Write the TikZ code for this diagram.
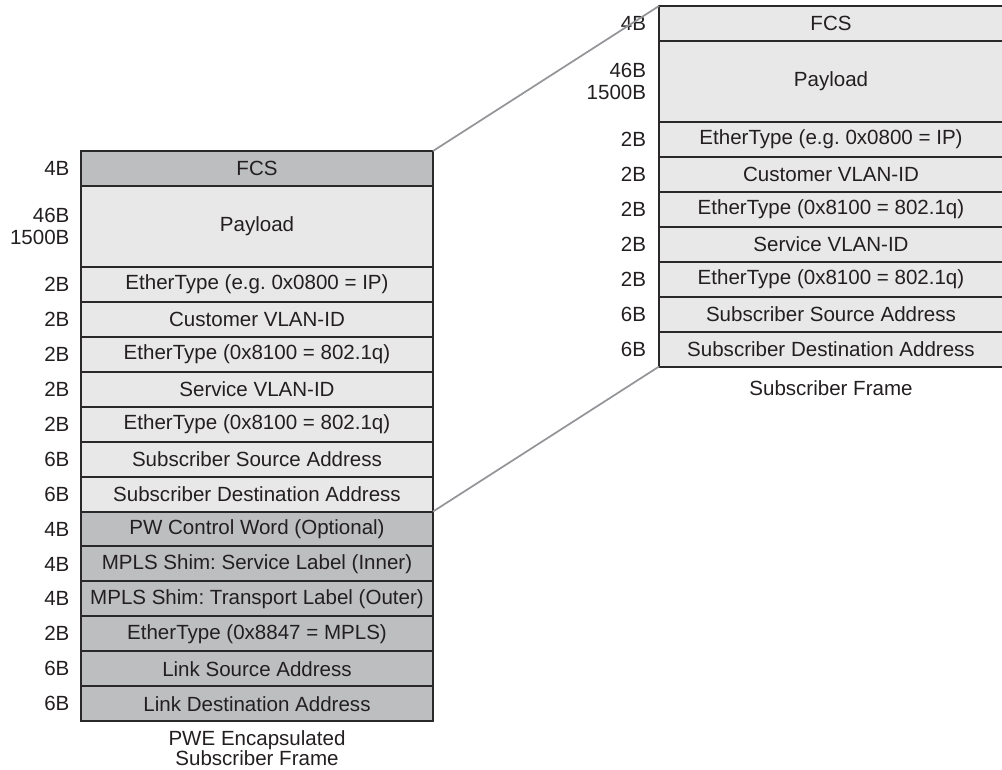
\documentclass[tikz,border=0pt]{standalone}
\usepackage{fontspec}
\setmainfont{Liberation Sans}
\usetikzlibrary{positioning}

\definecolor{edgegray}{HTML}{2B2829}
\definecolor{textgray}{HTML}{231F20}
\definecolor{pwefill}{HTML}{BCBEC0}
\definecolor{subfill}{HTML}{E8E8E8}
\definecolor{zoomline}{HTML}{939598}

\tikzset{
  field/.style={draw=edgegray, line width=1.5pt, fill=subfill, minimum width=264pt,
    minimum height=26.2pt, inner sep=0pt, outer sep=0pt},
  pwefield/.style={field, fill=pwefill},
  subfield/.style={field, minimum width=258pt},
  sizelbl/.style={inner sep=0pt, align=right},
}

\begin{document}
\frenchspacing
\begin{tikzpicture}[x=0.75pt, y=-0.75pt, text=textgray, font=\fontsize{15.4}{15}\selectfont]
  \useasboundingbox (0,0) rectangle (1002,769);

  % PWE encapsulated frame (left)
  \node[pwefield, anchor=north west] (fcsL) at (81,151) {FCS};
  \node[field, minimum height=60.8pt, below=0pt of fcsL] (payL) {Payload};
  \node[field, below=0pt of payL] (etL) {EtherType (e.g. 0x0800 = IP)};
  \node[field, below=0pt of etL] (cvidL) {Customer VLAN-ID};
  \node[field, below=0pt of cvidL] (tpaL) {EtherType (0x8100 = 802.1q)};
  \node[field, below=0pt of tpaL] (svidL) {Service VLAN-ID};
  \node[field, below=0pt of svidL] (tpbL) {EtherType (0x8100 = 802.1q)};
  \node[field, below=0pt of tpbL] (ssaL) {Subscriber Source Address};
  \node[field, below=0pt of ssaL] (sdaL) {Subscriber Destination Address};
  \node[pwefield, below=0pt of sdaL] (cwL) {PW Control Word (Optional)};
  \node[pwefield, below=0pt of cwL] (innerL) {MPLS Shim: Service Label (Inner)};
  \node[pwefield, below=0pt of innerL] (outerL) {MPLS Shim: Transport Label (Outer)};
  \node[pwefield, below=0pt of outerL] (mplsL) {EtherType (0x8847 = MPLS)};
  \node[pwefield, below=0pt of mplsL] (lsaL) {Link Source Address};
  \node[pwefield, below=0pt of lsaL] (ldaL) {Link Destination Address};

  \node[sizelbl, left=8.5pt of fcsL] {4B};
  \node[sizelbl, left=8.5pt of payL] {46B\\[1.5pt]1500B};
  \node[sizelbl, left=8.5pt of etL] {2B};
  \node[sizelbl, left=8.5pt of cvidL] {2B};
  \node[sizelbl, left=8.5pt of tpaL] {2B};
  \node[sizelbl, left=8.5pt of svidL] {2B};
  \node[sizelbl, left=8.5pt of tpbL] {2B};
  \node[sizelbl, left=8.5pt of ssaL] {6B};
  \node[sizelbl, left=8.5pt of sdaL] {6B};
  \node[sizelbl, left=8.5pt of cwL] {4B};
  \node[sizelbl, left=8.5pt of innerL] {4B};
  \node[sizelbl, left=8.5pt of outerL] {4B};
  \node[sizelbl, left=8.5pt of mplsL] {2B};
  \node[sizelbl, left=8.5pt of lsaL] {6B};
  \node[sizelbl, left=8.5pt of ldaL] {6B};

  \node[inner sep=0pt, align=center, below=7pt of ldaL] (pweL) {PWE Encapsulated\\Subscriber Frame};

  % subscriber frame (right)
  \node[subfield, anchor=north west] (fcsR) at (659,6) {FCS};
  \node[subfield, minimum height=60.8pt, below=0pt of fcsR] (payR) {Payload};
  \node[subfield, below=0pt of payR] (etR) {EtherType (e.g. 0x0800 = IP)};
  \node[subfield, below=0pt of etR] (cvidR) {Customer VLAN-ID};
  \node[subfield, below=0pt of cvidR] (tpaR) {EtherType (0x8100 = 802.1q)};
  \node[subfield, below=0pt of tpaR] (svidR) {Service VLAN-ID};
  \node[subfield, below=0pt of svidR] (tpbR) {EtherType (0x8100 = 802.1q)};
  \node[subfield, below=0pt of tpbR] (ssaR) {Subscriber Source Address};
  \node[subfield, below=0pt of ssaR] (sdaR) {Subscriber Destination Address};

  \node[sizelbl, left=9.5pt of fcsR] {4B};
  \node[sizelbl, left=9.5pt of payR] {46B\\[1.5pt]1500B};
  \node[sizelbl, left=9.5pt of etR] {2B};
  \node[sizelbl, left=9.5pt of cvidR] {2B};
  \node[sizelbl, left=9.5pt of tpaR] {2B};
  \node[sizelbl, left=9.5pt of svidR] {2B};
  \node[sizelbl, left=9.5pt of tpbR] {2B};
  \node[sizelbl, left=9.5pt of ssaR] {6B};
  \node[sizelbl, left=9.5pt of sdaR] {6B};

  \node[inner sep=0pt, below=10pt of sdaR] (subR) {Subscriber Frame};

  % zoom lines
  \draw[zoomline, line width=1.3pt] (fcsL.north east) -- (fcsR.north west);
  \draw[zoomline, line width=1.3pt] (sdaL.south east) -- (sdaR.south west);
\end{tikzpicture}
\end{document}
